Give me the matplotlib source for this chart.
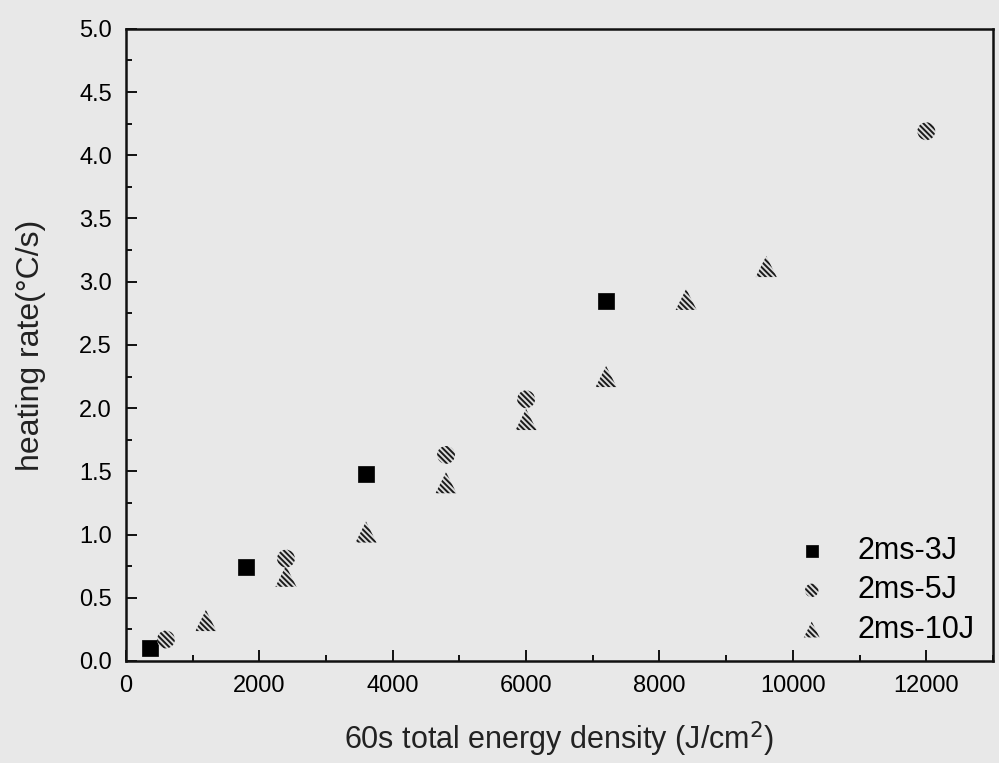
import matplotlib
matplotlib.use("Agg")
import matplotlib.pyplot as plt
from matplotlib.ticker import MultipleLocator

# data
x_3J = [360, 1800, 3600, 7200]
y_3J = [0.10, 0.74, 1.48, 2.85]
x_5J = [600, 2400, 4800, 6000, 12000]
y_5J = [0.17, 0.81, 1.63, 2.07, 4.19]
x_10J = [1200, 2400, 3600, 4800, 6000, 7200, 8400, 9600]
y_10J = [0.32, 0.67, 1.02, 1.41, 1.91, 2.25, 2.86, 3.12]
labels = ["2ms-3J", "2ms-5J", "2ms-10J"]
xticks = [0, 2000, 4000, 6000, 8000, 10000, 12000]
yticks = [0.0, 0.5, 1.0, 1.5, 2.0, 2.5, 3.0, 3.5, 4.0, 4.5, 5.0]

plt.rcParams['font.family'] = ['Liberation Sans', 'DejaVu Sans']
plt.rcParams['hatch.color'] = '#1a1a1a'
plt.rcParams['hatch.linewidth'] = 1.4

bg = '#e8e8e8'
fig = plt.figure(figsize=(9.99, 7.63), dpi=100, facecolor=bg)
ax = fig.add_axes([0.126, 0.1337, 0.868, 0.8285])
ax.set_facecolor(bg)

hatch = '\\' * 6
ax.scatter(x_3J, y_3J, marker='s', s=125, c='black', edgecolors='black', linewidths=0.5, label=labels[0], zorder=3)
ax.scatter(x_5J, y_5J, marker='o', s=165, facecolors='#dcdcdc', edgecolors='#1a1a1a', linewidths=0, hatch=hatch, label=labels[1], zorder=3)
ax.scatter(x_10J, y_10J, marker='^', s=230, facecolors='#dcdcdc', edgecolors='#1a1a1a', linewidths=0, hatch=hatch, label=labels[2], zorder=3)

ax.set_xlim(0, 13000)
ax.set_ylim(0, 5.0)
ax.set_xticks(xticks)
ax.set_yticks(yticks)
ax.set_yticklabels([f"{v:.1f}" for v in yticks])
ax.xaxis.set_minor_locator(MultipleLocator(1000))
ax.yaxis.set_minor_locator(MultipleLocator(0.25))

ax.tick_params(which='major', direction='in', length=8, width=1.3, labelsize=17, top=False, right=False, pad=10)
ax.tick_params(which='minor', direction='in', length=4, width=1.3, top=False, right=False)
for sp in ax.spines.values():
    sp.set_linewidth(1.8)
    sp.set_color('#111111')

ax.set_xlabel("60s total energy density (J/cm$^2$)", fontsize=22, labelpad=16, color='#222222')
ax.set_ylabel("heating rate(°C/s)", fontsize=23, labelpad=24, color='#222222')

leg = ax.legend(loc='lower right', bbox_to_anchor=(1.0, -0.003), frameon=False, fontsize=22,
                handletextpad=0.5, labelspacing=0.3, markerscale=0.75, borderaxespad=0.2)

fig.savefig("out.png", dpi=100, facecolor=bg)
